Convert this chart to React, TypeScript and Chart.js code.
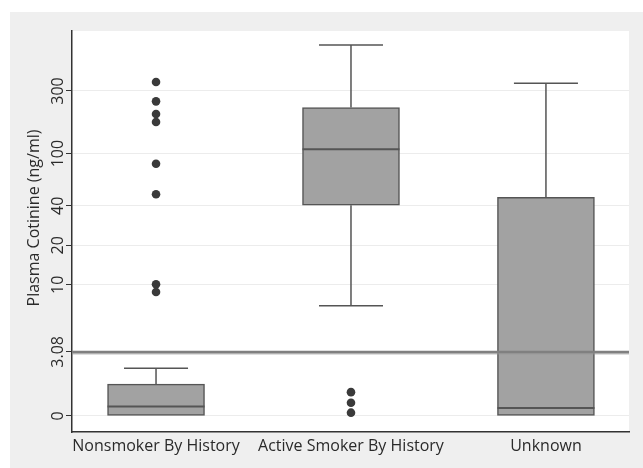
import React, { useEffect, useRef } from 'react';
import { Chart, registerables } from 'chart.js';

Chart.register(...registerables);

const categories = ['Nonsmoker By History', 'Active Smoker By History', 'Unknown'];
const q1Values = [0, 40.4, 0];
const medianValues = [1.18, 108, 1.15];
const q3Values = [1.75, 224, 46.4];
const lowerWhiskers = [0, 6.93, 0];
const upperWhiskers = [2.31, 673, 343];
const outliersNonsmoker = [351, 250, 200, 174, 83.7, 49, 10.1, 8.8];
const outliersActive = [1.52, 1.26, 1.06];
const outliersUnknown: number[] = [];
const yTickValues = [0, 3.08, 10, 20, 40, 100, 300];
const yTickLabels = ['0', '3.08', '10', '20', '40', '100', '300'];
const referenceValue = 3.08;
const yAxisTitle = 'Plasma Cotinine (ng/ml)';

// axis is logarithmic; values at or below 1 are shown at the "0" position
const pos = (v: number) => Math.log10(Math.max(v, 1));

const FONT = 'Open Sans';
const TEXT = '#2a2a2a';
const LINE = '#555555';

export default function App() {
  const ref = useRef<HTMLCanvasElement>(null);

  useEffect(() => {
    if (!ref.current) return;

    const outlierPoints: { x: number; y: number }[] = [];
    [outliersNonsmoker, outliersActive, outliersUnknown].forEach((arr, i) => {
      arr.forEach((v) => outlierPoints.push({ x: i + 1, y: pos(v) }));
    });

    const boxPlugin = {
      id: 'boxParts',
      beforeDraw(chart: any) {
        const { ctx, chartArea } = chart;
        ctx.save();
        ctx.fillStyle = '#ffffff';
        ctx.fillRect(0, 0, chart.width, chart.height);
        ctx.fillStyle = '#efefef';
        ctx.fillRect(10, 12, chart.width - 10, chart.height - 12);
        ctx.fillStyle = '#ffffff';
        ctx.fillRect(chartArea.left, chartArea.top, chartArea.right - chartArea.left, chartArea.bottom - chartArea.top);
        ctx.translate(34, 218);
        ctx.rotate(-Math.PI / 2);
        ctx.font = `16px "${FONT}"`;
        ctx.fillStyle = TEXT;
        ctx.textAlign = 'center';
        ctx.textBaseline = 'middle';
        ctx.fillText(yAxisTitle, 0, 0);
        ctx.restore();
      },
      afterDatasetsDraw(chart: any) {
        const { ctx, chartArea } = chart;
        const y = chart.scales.y;
        const meta = chart.getDatasetMeta(0);
        ctx.save();
        ctx.strokeStyle = LINE;
        ctx.lineWidth = 1.5;
        categories.forEach((_, i) => {
          const el = meta.data[i];
          const cx = el.x;
          const half = el.width / 2;
          const capHalf = half * 0.66;
          const yq1 = y.getPixelForValue(pos(q1Values[i]));
          const yq3 = y.getPixelForValue(pos(q3Values[i]));
          const yUp = y.getPixelForValue(pos(upperWhiskers[i]));
          const yLo = y.getPixelForValue(pos(lowerWhiskers[i]));
          const yMed = y.getPixelForValue(pos(medianValues[i]));
          ctx.beginPath();
          ctx.moveTo(cx, yq3);
          ctx.lineTo(cx, yUp);
          ctx.moveTo(cx - capHalf, yUp);
          ctx.lineTo(cx + capHalf, yUp);
          if (lowerWhiskers[i] < q1Values[i]) {
            ctx.moveTo(cx, yq1);
            ctx.lineTo(cx, yLo);
            ctx.moveTo(cx - capHalf, yLo);
            ctx.lineTo(cx + capHalf, yLo);
          }
          ctx.stroke();
          ctx.beginPath();
          ctx.lineWidth = 2;
          ctx.moveTo(cx - half, yMed);
          ctx.lineTo(cx + half, yMed);
          ctx.stroke();
          ctx.lineWidth = 1.5;
        });
        const yr = y.getPixelForValue(pos(referenceValue));
        ctx.strokeStyle = 'rgba(150,150,150,0.6)';
        ctx.lineWidth = 2;
        ctx.beginPath();
        ctx.moveTo(chartArea.left, yr + 1.5);
        ctx.lineTo(chartArea.right, yr + 1.5);
        ctx.stroke();
        ctx.strokeStyle = '#808080';
        ctx.lineWidth = 2.5;
        ctx.beginPath();
        ctx.moveTo(chartArea.left, yr);
        ctx.lineTo(chartArea.right, yr);
        ctx.stroke();
        ctx.restore();
      },
    };

    const chart = new Chart(ref.current, {
      type: 'bar',
      data: {
        datasets: [
          {
            type: 'bar',
            data: categories.map((_, i) => ({ x: i + 1, y: [pos(q1Values[i]), pos(q3Values[i])] })) as any,
            backgroundColor: '#a2a2a2',
            borderColor: LINE,
            borderWidth: 1.5,
            borderSkipped: false,
            barThickness: 97,
          } as any,
          {
            type: 'scatter',
            data: outlierPoints,
            pointRadius: 4.3,
            pointBackgroundColor: '#3a3a3a',
            pointBorderWidth: 0,
          } as any,
        ],
      },
      options: {
        animation: false,
        responsive: false,
        devicePixelRatio: 1,
        layout: { padding: { top: 31, right: 14, left: 0, bottom: 0 } },
        plugins: { legend: { display: false }, tooltip: { enabled: false } },
        scales: {
          x: {
            type: 'linear',
            offset: false,
            min: 0.569,
            max: 3.426,
            afterBuildTicks: (s: any) => {
              s.ticks = categories.map((_, i) => ({ value: i + 1 }));
            },
            afterFit: (s: any) => {
              s.height = 36;
            },
            ticks: {
              autoSkip: false,
              maxRotation: 0,
              padding: 5,
              color: TEXT,
              font: { family: FONT, size: 16 },
              callback: (_v: any, i: number) => categories[i],
            },
            grid: { display: false, drawTicks: false, offset: false },
            border: { color: '#333333', width: 1.5 },
          },
          y: {
            type: 'linear',
            min: -0.122,
            max: 2.934,
            afterBuildTicks: (s: any) => {
              s.ticks = yTickValues.map((v) => ({ value: pos(v) }));
            },
            afterFit: (s: any) => {
              s.width = 72;
            },
            ticks: {
              autoSkip: false,
              minRotation: 90,
              maxRotation: 90,
              crossAlign: 'center',
              padding: -8.5,
              color: TEXT,
              font: { family: FONT, size: 16 },
              callback: (_v: any, i: number) => yTickLabels[i],
            },
            grid: { color: '#ececec', lineWidth: 1, tickColor: '#333333', tickLength: 6 },
            border: { color: '#333333', width: 1.5 },
          },
        },
      } as any,
      plugins: [boxPlugin],
    });
    return () => chart.destroy();
  }, []);

  return (
    <div style={{ position: 'fixed', left: 0, top: 0, width: 643, height: 468 }}>
      <canvas ref={ref} width={643} height={468} />
    </div>
  );
}
